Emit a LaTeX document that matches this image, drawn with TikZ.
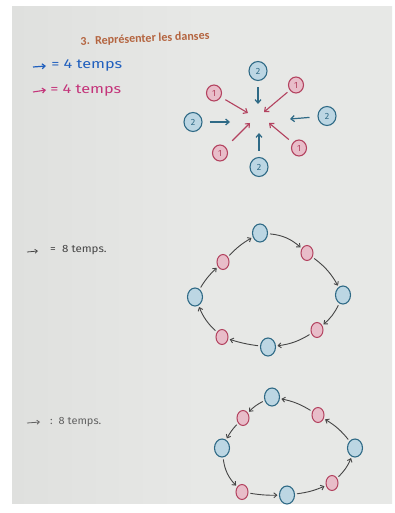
\documentclass[tikz,border=0pt]{standalone}
\usepackage{fontspec}
\setmainfont{Carlito}
\newfontfamily\handfont{Fira Sans}
\usetikzlibrary{arrows.meta,shapes.geometric}
\definecolor{paper}{HTML}{E7E8E6}
\definecolor{paperdark}{HTML}{DFE0DE}
\definecolor{titlec}{HTML}{B4643F}
\definecolor{binkc}{HTML}{2F6A86}
\definecolor{bfill}{HTML}{BCD6E3}
\definecolor{rinkc}{HTML}{B3425F}
\definecolor{rfill}{HTML}{E8BDC9}
\definecolor{legblue}{HTML}{2160BE}
\definecolor{legred}{HTML}{C4347A}
\definecolor{pencil}{HTML}{454545}
\tikzset{
  bnode/.style={ellipse, draw=binkc, fill=bfill, line width=1.1pt, inner sep=0pt,
    minimum width=18pt, minimum height=19pt, text=binkc, font=\handfont\small},
  rnode/.style={ellipse, draw=rinkc, fill=rfill, line width=1.1pt, inner sep=0pt,
    minimum width=15pt, minimum height=16pt, text=rinkc, font=\handfont\small},
  bsmall/.style={ellipse, draw=binkc, fill=bfill, line width=1.1pt, inner sep=0pt,
    minimum width=15pt, minimum height=18pt},
  rsmall/.style={ellipse, draw=rinkc, fill=rfill, line width=1.0pt, inner sep=0pt,
    minimum width=12pt, minimum height=15pt},
  barrow/.style={draw=binkc, line width=1.2pt, -{Straight Barb[length=3.5pt,width=6pt]}},
  rarrow/.style={draw=rinkc, line width=1.1pt, -{Straight Barb[length=3.5pt,width=6pt]}},
  parrow/.style={draw=pencil, line width=0.9pt, -{Straight Barb[length=3pt,width=5pt]},
    shorten <=2pt, shorten >=1.5pt},
  legtext/.style={anchor=west, inner sep=0pt, font=\handfont},
}
\begin{document}
\begin{tikzpicture}[x=1pt,y=1pt]
\useasboundingbox (0,0) rectangle (394,-513);
\fill[white] (0,0) rectangle (394,-513);
\shade[left color=paperdark, right color=paper, middle color=paper] (12,-7) rectangle (392,-503);

% title
\node[text=titlec, font=\bfseries\fontsize{12}{14}\selectfont, rotate=2.5, inner sep=0pt]
  (title) at (145,-39) {3.\ \ Représenter les danses};

% legends
\coordinate (lb1) at (33,-67); \coordinate (lb2) at (46,-66);
\draw[draw=legblue, line width=1.2pt, -{Straight Barb[length=3pt,width=5pt]}] (lb1) -- (lb2);
\node[legtext, text=legblue, font=\handfont\fontsize{13}{15}\selectfont, xscale=1.25]
  (legb) at (51,-65) {= 4 temps};
\coordinate (lr1) at (33,-92); \coordinate (lr2) at (46,-90);
\draw[draw=legred, line width=1.1pt, -{Straight Barb[length=3pt,width=5pt]}] (lr1) -- (lr2);
\node[legtext, text=legred, font=\handfont\fontsize{13}{15}\selectfont, xscale=1.25]
  (legr) at (50,-90) {= 4 temps};

% star diagram
\node[bnode] (st) at (258,-71) {2};
\node[bnode] (sl) at (193,-122) {2};
\node[bnode] (sr) at (327,-116) {2};
\node[bnode] (sb) at (259,-167) {2};
\node[rnode] (stl) at (214,-93) {1};
\node[rnode] (str) at (296,-85) {1};
\node[rnode] (sbl) at (220,-153) {1};
\node[rnode] (sbr) at (299,-148) {1};
\coordinate (et) at (258,-104);
\coordinate (el) at (230,-122);
\coordinate (er) at (290,-119);
\coordinate (eb) at (259,-133);
\coordinate (etl) at (248,-113);
\coordinate (etr) at (264,-112);
\coordinate (ebl) at (250,-123);
\coordinate (ebr) at (269,-123);
\draw[barrow, shorten <=6pt] (st) -- (et);
\draw[barrow, shorten <=7pt] (sl) -- (el);
\draw[barrow, shorten <=8pt] (sr) -- (er);
\draw[barrow, shorten <=6pt] (sb) -- (eb);
\draw[rarrow, shorten <=5pt] (stl) -- (etl);
\draw[rarrow, shorten <=3pt] (str) -- (etr);
\draw[rarrow, shorten <=9pt] (sbl) -- (ebl);
\draw[rarrow, shorten <=5pt] (sbr) -- (ebr);

% middle legend
\coordinate (lm1) at (27,-252); \coordinate (lm2) at (38,-251);
\draw[draw=pencil, line width=0.8pt, -{Straight Barb[length=2.5pt,width=4pt]}] (lm1) -- (lm2);
\node[legtext, text=pencil, font=\handfont\fontsize{10.5}{12}\selectfont, xscale=1.1]
  (legm) at (50,-250) {=\ \ 8 temps.};

% middle loop
\node[bsmall] (m1) at (260,-233) {};
\node[rsmall] (m2) at (307,-253) {};
\node[bsmall] (m3) at (343,-295) {};
\node[rsmall] (m4) at (317,-330) {};
\node[bsmall] (m5) at (268,-347) {};
\node[rsmall] (m6) at (222,-337) {};
\node[bsmall] (m7) at (195,-297) {};
\node[rsmall] (m8) at (223,-262) {};
\draw[parrow] (m1) to[bend left=18] (m2);
\draw[parrow] (m2) to[bend left=12] (m3);
\draw[parrow] (m3) to[bend left=12] (m4);
\draw[parrow] (m4) to[bend left=12] (m5);
\draw[parrow] (m5) to[bend left=5] (m6);
\draw[parrow] (m6) to[bend left=12] (m7);
\draw[parrow] (m7) to[bend left=8] (m8);
\draw[parrow] (m8) to[bend left=8] (m1);

% bottom legend
\coordinate (ln1) at (27,-423); \coordinate (ln2) at (40,-422);
\draw[draw=pencil!85, line width=0.8pt, -{Straight Barb[length=2.5pt,width=4pt]}] (ln1) -- (ln2);
\node[legtext, text=pencil!85, font=\handfont\fontsize{10.5}{12}\selectfont, xscale=1.05]
  (legn) at (50,-422) {:\ \ 8 temps.};

% bottom loop
\node[bsmall] (n1) at (272,-397) {};
\node[rsmall] (n2) at (243,-418) {};
\node[bsmall] (n3) at (222,-448) {};
\node[rsmall] (n4) at (242,-492) {};
\node[bsmall] (n5) at (287,-495) {};
\node[rsmall] (n6) at (332,-483) {};
\node[bsmall] (n7) at (355,-448) {};
\node[rsmall] (n8) at (318,-415) {};
\draw[parrow] (n1) to[bend right=10] (n2);
\draw[parrow] (n2) to[bend right=8] (n3);
\draw[parrow] (n3) to[bend right=18] (n4);
\draw[parrow] (n4) to[bend right=5] (n5);
\draw[parrow] (n5) to[bend right=8] (n6);
\draw[parrow] (n6) to[bend right=12] (n7);
\draw[parrow] (n7) to[bend right=10] (n8);
\draw[parrow] (n8) to[bend right=10] (n1);
\end{tikzpicture}
\end{document}
